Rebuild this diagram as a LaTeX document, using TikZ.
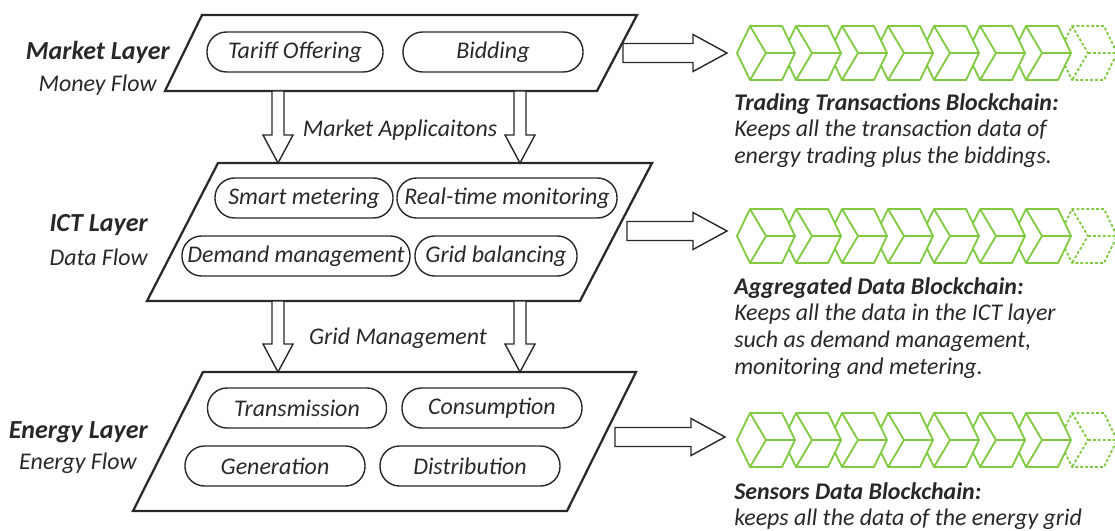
\documentclass[tikz,border=0pt]{standalone}
\usepackage{fontspec}
\setmainfont{Carlito}
\usepackage{xcolor}
\usepackage{tikz}
\usetikzlibrary{calc}

\definecolor{chaingreen}{RGB}{128,202,66}
\definecolor{inkgray}{RGB}{40,40,40}

\newcommand{\Cube}[3][solid]{
	\def\lx{#2}
	\def\ly{#3}
	\filldraw[draw=chaingreen, fill=white, line width=1.3pt, #1] (\lx,\ly) -- ++(13,-27) -- ++(32,0) -- ++(13,27) -- ++(-13,27) -- ++(-32,0) -- cycle;
	\draw[chaingreen, line width=1.3pt, #1] (\lx+13,\ly-27) -- (\lx+29,\ly) -- (\lx+13,\ly+27) (\lx+29,\ly) -- (\lx+58,\ly);
}
\newcommand{\Chain}[1]{
	\Cube[dash pattern=on 2pt off 1.5pt]{1059}{#1}
	\foreach \i in {6,5,...,0}{
		\Cube{737+46*\i}{#1}
	}
}
\newcommand{\FatRight}[2]{
	\draw[fatarrow] ($(#1)+(0,-9.5)$) -- ($(#2)+(-34,-9.5)$) -- ($(#2)+(-34,-18.5)$) -- (#2) -- ($(#2)+(-34,18.5)$) -- ($(#2)+(-34,9.5)$) -- ($(#1)+(0,9.5)$) -- cycle;
}
\newcommand{\FatDown}[2]{
	\draw[fatarrow] ($(#1)+(-6,0)$) -- ($(#2)+(-6,-28)$) -- ($(#2)+(-15,-28)$) -- (#2) -- ($(#2)+(15,-28)$) -- ($(#2)+(6,-28)$) -- ($(#1)+(6,0)$) -- cycle;
}

\begin{document}
\begin{tikzpicture}[x=0.025cm, y=-0.025cm, line join=round,
	every node/.style={text=inkgray},
	plane/.style={draw=inkgray, line width=1.6pt, line join=miter},
	layer/.style={anchor=east, inner sep=0, font=\fontsize{18.5}{21}\selectfont\bfseries\itshape},
	flow/.style={anchor=east, inner sep=0, font=\fontsize{17}{19}\selectfont\itshape},
	pill/.style={draw=inkgray, rectangle, rounded corners=0.49cm, minimum height=1cm, line width=1pt, inner sep=0, font=\fontsize{17}{19}\selectfont\itshape},
	fatarrow/.style={draw=inkgray, fill=white, line width=1pt, line join=miter},
	note/.style={anchor=north west, inner sep=0, align=left, font=\fontsize{17}{19}\selectfont\itshape}]

	\useasboundingbox (0,0) rectangle (1115,531);

	% layers
	\coordinate (M1) at (202,15);
	\coordinate (M2) at (637,15);
	\coordinate (M3) at (597,91);
	\coordinate (M4) at (165,91);
	\draw[plane] (M1) -- (M2) -- (M3) -- (M4) -- cycle;

	\coordinate (I1) at (218,163);
	\coordinate (I2) at (652,163);
	\coordinate (I3) at (580,301);
	\coordinate (I4) at (147,301);
	\draw[plane] (I1) -- (I2) -- (I3) -- (I4) -- cycle;

	\coordinate (E1) at (203,372);
	\coordinate (E2) at (636,372);
	\coordinate (E3) at (567,511);
	\coordinate (E4) at (133,511);
	\draw[plane] (E1) -- (E2) -- (E3) -- (E4) -- cycle;

	\node[layer] (market) at (170,52) {Market Layer};
	\node[flow] (money) at (157,85) {Money Flow};
	\node[layer] (ict) at (148,225) {ICT Layer};
	\node[flow] (data) at (148,257) {Data Flow};
	\node[layer] (energy) at (148,432) {Energy Layer};
	\node[flow] (eflow) at (137,463) {Energy Flow};

	% services
	\node[pill, minimum width=4.4cm] (tariff) at (295,52) {Tariff Offering};
	\node[pill, minimum width=4.5cm] (bidding) at (493,52) {Bidding};

	\node[pill, minimum width=4.45cm] (metering) at (304,198) {Smart metering};
	\node[pill, minimum width=5.5cm] (monitoring) at (507,198) {Real-time monitoring};
	\node[pill, minimum width=5.7cm] (demand) at (296,256) {Demand management};
	\node[pill, minimum width=4.05cm] (balancing) at (496,256) {Grid balancing};

	\node[pill, minimum width=4.475cm] (transmission) at (297,408) {Transmission};
	\node[pill, minimum width=4.5cm] (consumption) at (492,408) {Consumption};
	\node[pill, minimum width=4.5cm] (generation) at (275,466) {Generation};
	\node[pill, minimum width=4.5cm] (distribution) at (470,466) {Distribution};

	% flows between layers
	\coordinate (mi1) at (278,91);
	\coordinate (mi1t) at (278,163);
	\coordinate (mi2) at (520,91);
	\coordinate (mi2t) at (520,163);
	\FatDown{mi1}{mi1t}
	\FatDown{mi2}{mi2t}
	\node[flow, anchor=center] (apps) at (400,130) {Market Applicaitons};

	\coordinate (ie1) at (278,301);
	\coordinate (ie1t) at (278,372);
	\coordinate (ie2) at (520,301);
	\coordinate (ie2t) at (520,372);
	\FatDown{ie1}{ie1t}
	\FatDown{ie2}{ie2t}
	\node[flow, anchor=center] (gridman) at (398,338) {Grid Management};

	% blockchains
	\coordinate (r1) at (623,53);
	\coordinate (r1t) at (727,53);
	\coordinate (r2) at (627,231);
	\coordinate (r2t) at (727,231);
	\coordinate (r3) at (615,437);
	\coordinate (r3t) at (725,437);
	\FatRight{r1}{r1t}
	\FatRight{r2}{r2t}
	\FatRight{r3}{r3t}

	\Chain{53}
	\Chain{236}
	\Chain{440}

	\node[note] (trading) at (734,93) {\textbf{Trading Transactions Blockchain:}\\Keeps all the transaction data of\\energy trading plus the biddings.};
	\node[note] (aggregated) at (734,277) {\textbf{Aggregated Data Blockchain:}\\Keeps all the data in the ICT layer\\such as demand management,\\monitoring and metering.};
	\node[note] (sensors) at (734,482) {\textbf{Sensors Data Blockchain:}\\keeps all the data of the energy grid};

\end{tikzpicture}
\end{document}
